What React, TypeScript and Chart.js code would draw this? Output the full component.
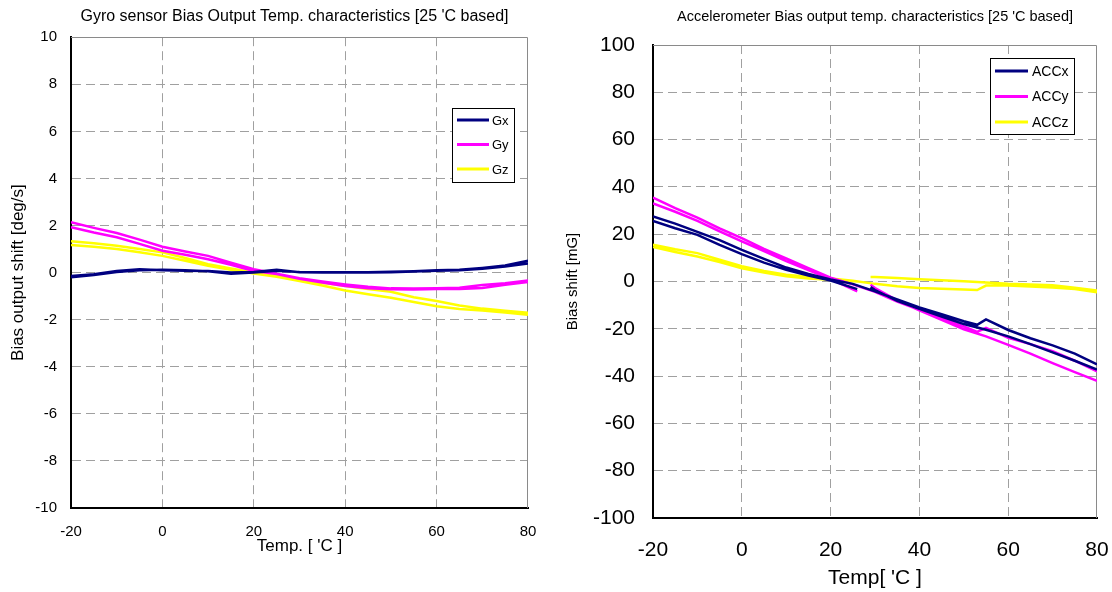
import React, { useEffect, useRef } from "react";
import { Chart, registerables } from "chart.js";

Chart.register(...registerables);

// ---------- Data ----------
const GYRO_T = [-20, -15, -10, -5, 0, 5, 10, 15, 20, 25, 30, 35, 40, 45, 50, 55, 60, 65, 70, 75, 80];

const GX_UP = [-0.14, -0.07, 0.07, 0.14, 0.1, 0.08, 0.07, 0.0, 0.03, 0.12, 0.01, 0.0, 0.01, 0.02, 0.04, 0.06, 0.1, 0.12, 0.2, 0.3, 0.5];
const GX_DOWN = [-0.2, -0.1, 0.03, 0.1, 0.12, 0.1, 0.06, -0.05, 0.0, 0.08, 0.03, 0.01, 0.0, 0.0, 0.02, 0.05, 0.08, 0.1, 0.16, 0.26, 0.39];
const GY_UP = [2.14, 1.9, 1.68, 1.4, 1.1, 0.9, 0.71, 0.42, 0.14, -0.05, -0.24, -0.38, -0.5, -0.6, -0.67, -0.68, -0.67, -0.64, -0.53, -0.45, -0.34];
const GY_DOWN = [1.93, 1.7, 1.5, 1.22, 0.93, 0.76, 0.57, 0.33, 0.07, -0.06, -0.26, -0.42, -0.57, -0.66, -0.71, -0.72, -0.7, -0.7, -0.65, -0.52, -0.4];
const GZ_UP = [1.33, 1.25, 1.14, 1.0, 0.86, 0.62, 0.36, 0.18, 0.0, -0.1, -0.29, -0.43, -0.57, -0.7, -0.81, -1.05, -1.21, -1.4, -1.53, -1.62, -1.71];
const GZ_DOWN = [1.17, 1.1, 1.0, 0.86, 0.71, 0.5, 0.29, 0.12, -0.04, -0.18, -0.36, -0.55, -0.76, -0.92, -1.07, -1.25, -1.43, -1.55, -1.61, -1.7, -1.79];

const ACC_T_A = [-20, -15, -10, -5, 0, 5, 10, 15, 20, 25, 30, 35, 40, 45, 50, 53, 55, 60, 65, 70, 75, 80];
const ACC_T_B = [-20, -15, -10, -5, 0, 5, 10, 15, 20, 26, 27, 29, 30, 35, 40, 45, 50, 55, 60, 65, 70, 75, 80];

const ACCX_A = [27.5, 24.5, 21, 17.5, 13.4, 9.6, 5.9, 3.2, 0.9, -1.0, -4.2, -7.6, -11, -13.8, -16.8, -18.3, -16, -20.5, -24, -27, -30.5, -35];
const ACCX_B = [25.6, 22.5, 19.7, 15.5, 11.6, 8, 4.9, 2.5, 0.4, -3.2, null, -2.4, -3.6, -8.2, -11.6, -14.8, -18, -20.4, -23.2, -26.5, -30, -33.5, -37.3];
const ACCY_A = [35.5, 31, 27, 22.5, 18.3, 13.8, 9.8, 5.6, 1.6, -1.2, -4.4, -8.5, -12, -15.5, -19, -21.3, -19.6, -23.8, -26.5, -29.5, -33.5, -38];
const ACCY_B = [33, 29.5, 25.6, 21.2, 17, 12.8, 8.6, 4.8, 1.0, -4.2, null, -1.4, -2.8, -8, -12.2, -16.2, -20.2, -23.2, -26.8, -30.5, -34.5, -38.3, -42];
const ACCZ_A = [15.6, 13.6, 12, 9.2, 6.5, 4.5, 2.9, 2.0, 1.3, 0.3, -1.0, -2.0, -2.7, -3.1, -3.4, -3.6, -1.7, -1.7, -2.1, -2.5, -3.2, -4.5];
const ACCZ_B = [14.6, 12.5, 10.6, 8.2, 5.6, 3.8, 2.2, 1.3, 0.7, 0.0, null, 1.9, 1.9, 1.5, 0.9, 0.5, 0.1, -0.4, -1.0, -1.3, -1.6, -2.6, -3.8];

const GYRO_LABELS = ["Gx", "Gy", "Gz"];
const ACC_LABELS = ["ACCx", "ACCy", "ACCz"];
const COLORS = ["#000080", "#FF00FF", "#FFFF00"];

const FONT = "'Liberation Sans', Arial, sans-serif";

// ---------- helpers ----------
function loopPoints(tA: number[], yA: (number | null)[], tB: number[], yB: (number | null)[]) {
  const a = tA.map((t, i) => ({ x: t, y: yA[i] }));
  const b = tB.map((t, i) => ({ x: t, y: yB[i] }));
  return [...a, { x: tA[tA.length - 1], y: null }, ...b];
}

const framePlugin = {
  id: "frameLegend",
  beforeDatasetsDraw(chart: any) {
    const { ctx, chartArea: a } = chart;
    ctx.save();
    ctx.strokeStyle = "#8a8a8a";
    ctx.lineWidth = 1;
    ctx.beginPath();
    ctx.moveTo(a.left, Math.round(a.top) + 0.5);
    ctx.lineTo(Math.round(a.right) - 0.5, Math.round(a.top) + 0.5);
    ctx.lineTo(Math.round(a.right) - 0.5, a.bottom);
    ctx.stroke();
    ctx.restore();
  },
  afterDraw(chart: any, _args: any, opts: any) {
    if (!opts || !opts.box) return;
    const { ctx } = chart;
    const { x, y, w, h, fontSize, lineLen, rowGap, firstRow, textGap, padLeft } = opts.box;
    ctx.save();
    ctx.fillStyle = "#ffffff";
    ctx.fillRect(x, y, w, h);
    ctx.strokeStyle = "#000000";
    ctx.lineWidth = 1;
    ctx.strokeRect(Math.round(x) + 0.5, Math.round(y) + 0.5, Math.round(w), Math.round(h));
    ctx.font = `${fontSize}px ${FONT}`;
    ctx.textBaseline = "middle";
    ctx.textAlign = "left";
    chart.data.datasets.forEach((ds: any, i: number) => {
      const cy = y + firstRow + i * rowGap;
      ctx.strokeStyle = ds.borderColor;
      ctx.lineWidth = 3;
      ctx.beginPath();
      ctx.moveTo(x + padLeft, cy);
      ctx.lineTo(x + padLeft + lineLen, cy);
      ctx.stroke();
      ctx.fillStyle = "#000";
      ctx.fillText(ds.label, x + padLeft + lineLen + textGap, cy + 1);
    });
    ctx.restore();
  },
};

function makeConfig(p: {
  datasets: any[];
  title: string;
  titleSize: number;
  titlePad: { top: number; bottom: number };
  xTitle: string;
  xTitleSize: number;
  xTitlePadBottom: number;
  yTitle: string;
  yTitleSize: number;
  yTitlePadTop: number;
  tickSize: number;
  xTickPad: number;
  yTickPad: number;
  yMin: number;
  yMax: number;
  yStep: number;
  yAxisWidth: number;
  rightSpace: number;
  xAxisHeight: number;
  box: any;
}) {
  const gridColor = (edgeMax: number) => (ctx: any) =>
    ctx.tick && ctx.tick.value === edgeMax ? "rgba(0,0,0,0)" : "#a0a0a0";
  return {
    type: "scatter" as const,
    data: { datasets: p.datasets },
    plugins: [framePlugin],
    options: {
      responsive: false,
      animation: false as const,
      layout: { padding: 0 },
      elements: { point: { radius: 0, hoverRadius: 0 }, line: { tension: 0, borderWidth: 2.5 } },
      plugins: {
        legend: { display: false },
        tooltip: { enabled: false },
        title: {
          display: true,
          text: p.title,
          color: "#000",
          font: { family: FONT, size: p.titleSize, weight: "normal" as const },
          padding: p.titlePad,
        },
        frameLegend: { box: p.box },
      },
      scales: {
        x: {
          type: "linear" as const,
          min: -20,
          max: 80,
          ticks: { stepSize: 20, color: "#000", font: { family: FONT, size: p.tickSize }, padding: p.xTickPad },
          grid: { color: gridColor(80), lineWidth: 1, drawTicks: false },
          border: { color: "#000", width: 2, dash: [9, 5] },
          title: {
            display: true,
            text: p.xTitle,
            color: "#000",
            font: { family: FONT, size: p.xTitleSize },
            padding: { top: 0, bottom: p.xTitlePadBottom },
          },
          afterFit: (s: any) => {
            s.height = p.xAxisHeight;
          },
        },
        y: {
          type: "linear" as const,
          position: "left" as const,
          min: p.yMin,
          max: p.yMax,
          ticks: { stepSize: p.yStep, color: "#000", font: { family: FONT, size: p.tickSize }, padding: p.yTickPad },
          grid: { color: gridColor(p.yMax), lineWidth: 1, drawTicks: false },
          border: { color: "#000", width: 2, dash: [9, 5] },
          title: {
            display: true,
            text: p.yTitle,
            color: "#000",
            font: { family: FONT, size: p.yTitleSize },
            padding: { top: p.yTitlePadTop, bottom: 0 },
          },
          afterFit: (s: any) => {
            s.width = p.yAxisWidth;
          },
        },
        // empty spacer on the right so the chart title centres like the original
        spacer: {
          type: "linear" as const,
          position: "right" as const,
          min: 0,
          max: 1,
          ticks: { display: false },
          grid: { display: false, drawOnChartArea: false },
          border: { display: false },
          afterFit: (s: any) => {
            s.width = p.rightSpace;
          },
        },
      },
    },
  };
}

function seriesDatasets(labels: string[], pts: any[][]) {
  return labels.map((label, i) => ({
    label,
    data: pts[i],
    borderColor: COLORS[i],
    backgroundColor: COLORS[i],
    showLine: true,
    spanGaps: false,
    borderWidth: 2.5,
    pointRadius: 0,
    yAxisID: "y",
  }));
}

export default function App() {
  const leftRef = useRef<HTMLCanvasElement | null>(null);
  const rightRef = useRef<HTMLCanvasElement | null>(null);

  useEffect(() => {
    const gyroDs = seriesDatasets(GYRO_LABELS, [
      loopPoints(GYRO_T, GX_UP, GYRO_T, GX_DOWN),
      loopPoints(GYRO_T, GY_UP, GYRO_T, GY_DOWN),
      loopPoints(GYRO_T, GZ_UP, GYRO_T, GZ_DOWN),
    ]);
    const accDs = seriesDatasets(ACC_LABELS, [
      loopPoints(ACC_T_A, ACCX_A, ACC_T_B, ACCX_B),
      loopPoints(ACC_T_A, ACCY_A, ACC_T_B, ACCY_B),
      loopPoints(ACC_T_A, ACCZ_A, ACC_T_B, ACCZ_B),
    ]);

    const left = new Chart(
      leftRef.current as HTMLCanvasElement,
      makeConfig({
        datasets: gyroDs,
        title: "Gyro sensor Bias Output Temp. characteristics [25 'C based]",
        titleSize: 16,
        titlePad: { top: 7, bottom: 11 },
        xTitle: "Temp. [ 'C ]",
        xTitleSize: 17,
        xTitlePadBottom: 35,
        yTitle: "Bias output shift [deg/s]",
        yTitleSize: 17,
        yTitlePadTop: 8,
        tickSize: 15,
        xTickPad: 15,
        yTickPad: 14,
        yMin: -10,
        yMax: 10,
        yStep: 2,
        yAxisWidth: 71,
        rightSpace: 61,
        xAxisHeight: 84,
        box: { x: 452, y: 108, w: 62, h: 74, fontSize: 13, lineLen: 32, rowGap: 24.5, firstRow: 12, textGap: 3, padLeft: 5 },
      }) as any
    );

    const right = new Chart(
      rightRef.current as HTMLCanvasElement,
      makeConfig({
        datasets: accDs,
        title: "Accelerometer Bias output temp. characteristics [25 'C based]",
        titleSize: 14.5,
        titlePad: { top: 8, bottom: 19.6 },
        xTitle: "Temp[ 'C ]",
        xTitleSize: 21,
        xTitlePadBottom: 1,
        yTitle: "Bias shift [mG]",
        yTitleSize: 15,
        yTitlePadTop: 8,
        tickSize: 21,
        xTickPad: 20,
        yTickPad: 18,
        yMin: -100,
        yMax: 100,
        yStep: 20,
        yAxisWidth: 97,
        rightSpace: 97,
        xAxisHeight: 74,
        box: { x: 434, y: 58, w: 84, h: 76, fontSize: 14, lineLen: 33, rowGap: 25.5, firstRow: 13, textGap: 4, padLeft: 5 },
      }) as any
    );

    return () => {
      left.destroy();
      right.destroy();
    };
  }, []);

  return (
    <div style={{ position: "fixed", left: 0, top: 0, width: 1112, height: 592, overflow: "hidden", background: "#fff" }}>
      <canvas ref={leftRef} width={589} height={592} style={{ position: "absolute", left: 0, top: 0 }} />
      <canvas ref={rightRef} width={638} height={592} style={{ position: "absolute", left: 556, top: 0 }} />
    </div>
  );
}
